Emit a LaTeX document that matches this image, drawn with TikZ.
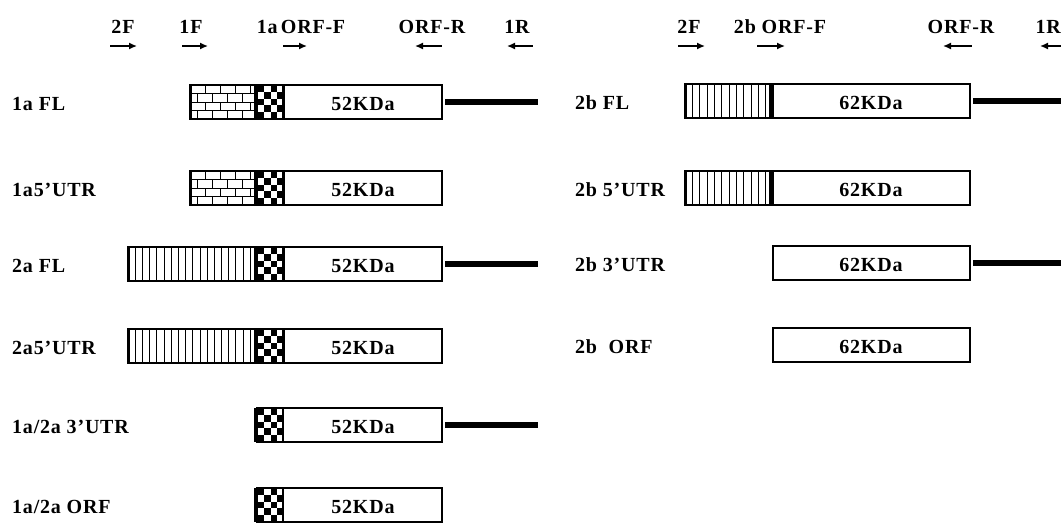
\documentclass[tikz,border=0pt]{standalone}
\usepackage{fontspec}
\setmainfont{Liberation Serif}[LetterSpace=4]
\usetikzlibrary{arrows.meta}

\begin{document}
\begin{tikzpicture}[x=1pt,y=-1pt,
    lab/.style={font=\fontsize{20}{24}\selectfont\bfseries, inner sep=0pt, anchor=base},
    rowlab/.style={lab, anchor=base west},
    box/.style={draw, line width=1.2pt},
    tail/.style={line width=6pt},
    fwd/.style={line width=1.4pt, -{Latex[length=8pt,width=7pt]}},
    rev/.style={line width=1.4pt, {Latex[length=8pt,width=7pt]}-}]
    \fill[white] (0,0) rectangle (1061,523);
    \useasboundingbox (0,0) rectangle (1061,523);

    % primers
    \foreach \nm/\txt/\xx in {pa/2F/123, pb/1F/191, pc/{1a\,ORF-F}/301, pd/ORF-R/432, pe/1R/517,
                              qa/2F/689, qb/{2b ORF-F}/780, qc/ORF-R/961}
        \node[lab] (\nm) at (\xx,33) {\txt};
    \node[lab, anchor=base east] (qd) at (1061,33) {1R};
    \foreach \xa/\xb in {110/137, 182/208, 283/307, 678/705, 757/785}
        \draw[fwd] (\xa,46) -- (\xb,46);
    \foreach \xa/\xb in {415/442, 507/533, 943/972, 1040/1067}
        \draw[rev] (\xa,46) -- (\xb,46);

    % 1a / 2a constructs
    \foreach \tp in {85,171} {
        \foreach \r in {1,2,3} \draw[thin] (190,\tp+\r*8.5) -- (257,\tp+\r*8.5);
        \foreach \r in {0,2} \foreach \xx in {205,220,235,250} \draw[thin] (\xx,\tp+\r*8.5) -- ++(0,8.5);
        \foreach \r in {1,3} \foreach \xx in {197.5,212.5,227.5,242.5} \draw[thin] (\xx,\tp+\r*8.5) -- ++(0,8.5);
        \draw[line width=2.5pt] (191.2,\tp) -- (191.2,\tp+34);
        \draw[box] (190,\tp) rectangle (284,\tp+34);
    }
    \foreach \tp in {247,329} {
        \foreach \k in {1,...,17} \draw[thin] (128+\k*7.17,\tp) -- ++(0,34);
        \draw[line width=2.5pt] (129.2,\tp) -- (129.2,\tp+34);
        \draw[box] (128,\tp) rectangle (284,\tp+34);
    }
    \foreach \tp in {85,171,247,329,408,488} {
        \foreach \c in {0,2} \foreach \r in {0,2,4} \fill (257+\c*6.75,\tp+\r*6.8) rectangle ++(6.75,6.8);
        \foreach \c in {1,3} \foreach \r in {1,3} \fill (257+\c*6.75,\tp+\r*6.8) rectangle ++(6.75,6.8);
        \draw[line width=3pt] (255.5,\tp) -- (255.5,\tp+34);
        \draw[line width=2.5pt] (283,\tp) -- (283,\tp+34);
        \draw[box] (257,\tp) rectangle (442,\tp+34);
    }
    \foreach \i/\tp/\txt in {0/85/{1a FL}, 1/171/{1a5'UTR}, 2/247/{2a FL}, 3/329/{2a5'UTR},
                             4/408/{1a/2a 3'UTR}, 5/488/{1a/2a ORF}} {
        \node[rowlab] (l\i) at (12,\tp+25) {\txt};
        \node[lab] (k\i) at (363,\tp+25) {52KDa};
    }
    \foreach \tp in {85,247,408}
        \draw[tail] (445,\tp+17) -- (538,\tp+17);

    % 2b constructs
    \foreach \tp in {84,171} {
        \foreach \k in {1,...,11} \draw[thin] (685+\k*7.33,\tp) -- ++(0,34);
        \draw[line width=2.5pt] (686.2,\tp) -- (686.2,\tp+34);
        \draw[line width=4pt] (771,\tp) -- (771,\tp+34);
        \draw[box] (685,\tp) rectangle (773,\tp+34);
    }
    \foreach \i/\tp/\txt in {0/84/{2b FL}, 1/171/{2b 5'UTR}, 2/246/{2b 3'UTR}, 3/328/{2b\ \ ORF}} {
        \node[rowlab] (r\i) at (575,\tp+25) {\txt};
        \draw[box] (773,\tp) rectangle (970,\tp+34);
        \node[lab] (m\i) at (871,\tp+25) {62KDa};
    }
    \foreach \tp in {84,246}
        \draw[tail] (973,\tp+17) -- (1061,\tp+17);
\end{tikzpicture}
\end{document}
